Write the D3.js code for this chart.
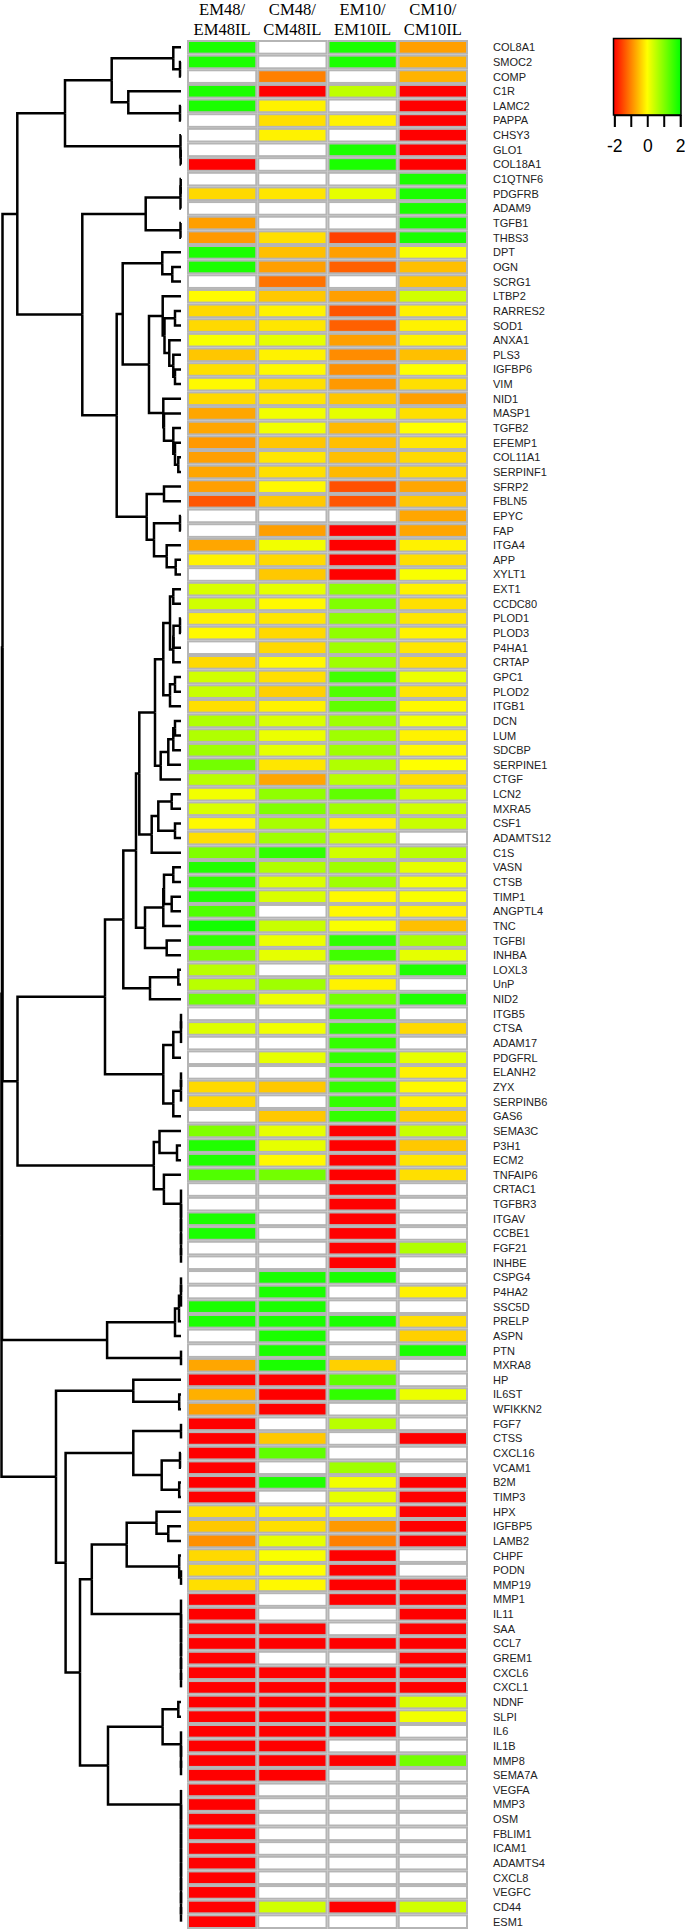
<!DOCTYPE html>
<html><head><meta charset="utf-8">
<script src="https://cdn.jsdelivr.net/npm/d3@7"></script>
<style>html,body{margin:0;padding:0;background:#fff;}svg{display:block;}</style>
</head><body>
<svg id="chart" width="685" height="1929"></svg>
<script>
const genes = ["COL8A1","SMOC2","COMP","C1R","LAMC2","PAPPA","CHSY3","GLO1","COL18A1","C1QTNF6","PDGFRB","ADAM9","TGFB1","THBS3","DPT","OGN","SCRG1","LTBP2","RARRES2","SOD1","ANXA1","PLS3","IGFBP6","VIM","NID1","MASP1","TGFB2","EFEMP1","COL11A1","SERPINF1","SFRP2","FBLN5","EPYC","FAP","ITGA4","APP","XYLT1","EXT1","CCDC80","PLOD1","PLOD3","P4HA1","CRTAP","GPC1","PLOD2","ITGB1","DCN","LUM","SDCBP","SERPINE1","CTGF","LCN2","MXRA5","CSF1","ADAMTS12","C1S","VASN","CTSB","TIMP1","ANGPTL4","TNC","TGFBI","INHBA","LOXL3","UnP","NID2","ITGB5","CTSA","ADAM17","PDGFRL","ELANH2","ZYX","SERPINB6","GAS6","SEMA3C","P3H1","ECM2","TNFAIP6","CRTAC1","TGFBR3","ITGAV","CCBE1","FGF21","INHBE","CSPG4","P4HA2","SSC5D","PRELP","ASPN","PTN","MXRA8","HP","IL6ST","WFIKKN2","FGF7","CTSS","CXCL16","VCAM1","B2M","TIMP3","HPX","IGFBP5","LAMB2","CHPF","PODN","MMP19","MMP1","IL11","SAA","CCL7","GREM1","CXCL6","CXCL1","NDNF","SLPI","IL6","IL1B","MMP8","SEMA7A","VEGFA","MMP3","OSM","FBLIM1","ICAM1","ADAMTS4","CXCL8","VEGFC","CD44","ESM1"];

const columns = ["EM48/\nEM48IL","CM48/\nCM48IL","EM10/\nEM10IL","CM10/\nCM10IL"];
const N = null;
const em48 = [1.8,1.8,N,1.8,1.8,N,N,N,-2,N,-0.3,N,-0.75,-0.8,1.8,1.8,N,-0.03,-0.3,-0.3,0.05,-0.45,-0.25,-0.05,-0.3,-0.7,-0.7,-0.8,-0.75,-0.7,-0.75,-1.33,N,N,-0.7,-0.1,N,0.3,0.37,-0.1,-0.05,N,-0.3,0.37,0.43,-0.25,0.62,0.62,0.75,1.1,0.55,0.1,0.3,-0.05,-0.25,1.0,1.75,1.62,1.75,1.37,1.87,1.62,1.0,0.55,0.55,1.1,N,0.27,N,N,N,-0.3,-0.3,N,1.0,1.75,1.75,1.37,N,N,1.8,1.8,N,N,N,N,1.8,1.8,N,N,-0.7,-2,-0.62,-0.75,-2,-2,-2,-2,-2,-2,-0.25,-0.43,-0.87,-0.3,-0.25,-0.25,-2,-2,-2,-2,-2,-2,-2,-2,-2,-2,-2,-2,-2,-2,-2,-2,-2,-2,-2,-2,-2,-2,-2];
const cm48 = [N,N,-1.0,-2,-0.1,-0.25,-0.1,N,N,N,-0.2,N,N,-0.25,-0.5,-0.75,-1.1,-0.43,-0.1,-0.2,0.2,-0.1,-0.05,-0.25,-0.2,0.1,0.1,-0.45,-0.2,-0.25,-0.05,-0.43,N,-0.75,0.1,-0.3,-0.43,0.2,-0.05,-0.2,-0.3,-0.3,-0.05,-0.25,-0.37,-0.1,0.3,0.15,0.2,-0.2,-0.7,0.87,1.0,0.68,0.75,1.62,0.62,0.3,0.3,N,0.43,0.15,0.2,N,0.75,0.15,N,0.1,N,0.2,N,-0.43,N,-0.43,0.2,0.2,-0.05,1.1,N,N,N,N,N,N,1.8,1.8,1.8,1.8,1.8,1.8,1.8,-2,-2,-2,N,-0.43,1.25,N,1.75,N,-0.1,-0.25,0.2,0.05,0,-0.05,N,N,-2,-2,N,-2,-2,-2,-2,-2,-2,-2,-2,N,N,N,N,N,N,N,N,0.37,N];
const em10 = [1.8,1.8,N,0.5,N,-0.1,N,1.8,1.8,N,0.2,N,N,-1.5,-0.75,-1.25,N,-0.75,-1.33,-1.25,-0.75,-0.9,-0.87,-0.8,-0.45,0.2,-0.55,-0.5,-0.5,-0.55,-1.37,-1.33,N,-2,-2,-2,-2,0.87,1.0,0.87,0.87,0.75,0.75,1.5,1.37,1.25,0.75,0.75,0.75,0.62,0.55,1.25,0.75,-0.1,0.43,0.37,0.75,0.75,-0.05,-0.05,0.05,1.62,1.5,0.15,-0.1,1.1,1.6,1.6,1.6,1.6,1.6,1.6,1.6,1.6,-2,-2,-2,-2,-2,-2,-2,-2,-2,-2,1.8,N,N,1.8,N,N,-0.37,1.25,1.62,N,0.55,N,N,0.75,0.1,0.2,0.05,-0.8,-1.0,-2,-2,-2,-2,N,N,-2,N,-2,-2,-2,-2,-2,N,-2,N,N,N,N,N,N,N,N,N,-2,N];
const cm10 = [-0.75,-0.6,-0.6,-2,-2,-2,-2,-2,-2,1.8,1.8,1.8,1.8,1.8,0.05,-0.5,-0.45,0.37,-0.1,-0.1,-0.1,-0.5,0,-0.25,-0.75,-0.25,0,-0.2,-0.3,-0.3,-0.7,-0.43,-0.7,-0.7,-0.1,-0.25,0.05,-0.1,-0.25,-0.2,-0.1,-0.2,-0.25,0.15,-0.2,-0.05,0.1,-0.1,-0.05,0,-0.25,0.37,0.37,0.43,N,0.55,0.2,0.1,0.05,-0.1,-0.5,0.68,0.2,1.75,N,1.75,N,-0.3,N,0.2,-0.1,-0.05,-0.1,-0.37,0.43,-0.43,-0.2,-0.25,N,N,N,N,0.62,N,N,-0.1,N,-0.25,-0.37,1.8,N,N,0.15,N,N,-2,N,N,-2,-2,-2,-2,-2,N,N,-2,-2,-2,-2,-2,-2,-2,-2,0.3,0.1,N,N,1.1,N,N,N,N,N,N,N,N,N,0.37,N];
const series = [em48, cm48, em10, cm10];

const legendTicks = [-2,-1,0,1,2];
const legendLabels = ["-2","","0","","2"];

// dendrogram: [height, left, right]; leaves are gene names
const treeTop = [163.7,
  [116,
    [69.3, [7.7, "COL8A1", [1, "SMOC2", "COMP"]], [52.7, "C1R", [1, "LAMC2", "PAPPA"]]],
    [0.5, "CHSY3", [0.3, "GLO1", "COL18A1"]]],
  [98.7,
    [35.3, [0.5, [0.3, "C1QTNF6", "PDGFRB"], "ADAM9"], [0.5, "TGFB1", "THBS3"]],
    [64.3,
      [58.3,
        [18.7, "DPT", [8.7, "OGN", "SCRG1"]],
        [32,
          [18.3, "LTBP2", [16.5, [6, "RARRES2", "SOD1"], [11.7, "ANXA1", [7.7, "PLS3", [6, "IGFBP6", "VIM"]]]]],
          [17.7, "NID1", [17, "MASP1", [7.7, "TGFB2", [6, "EFEMP1", [2.7, "COL11A1", "SERPINF1"]]]]]]],
      [34.3, [17, "SFRP2", "FBLN5"], [27, [1, "EPYC", "FAP"], [14.3, "ITGA4", [5.3, "APP", "XYLT1"]]]]]]];
const treeMid = [163.5,
  [76,
    [57.7,
      [45,
        [41.7,
          [26,
            [17.7, [11, [7.7, "EXT1", "CCDC80"], [7.7, [7.5, [1, "PLOD1", "PLOD3"], "P4HA1"], "CRTAP"]],
                   [11, [6, "GPC1", "PLOD2"], "ITGB1"]],
            [20.3, [12.7, [7.7, [6, "DCN", "LUM"], "SDCBP"], "SERPINE1"], "CTGF"]],
          [29.3, [22.7, [9.3, "LCN2", "MXRA5"], [6, "CSF1", "ADAMTS12"]], "C1S"]],
        [36, [17.7, [17, [7.7, "VASN", "CTSB"], [9.3, "TIMP1", "ANGPTL4"]], "TNC"], [14.3, "TGFBI", "INHBA"]]],
      [31, [2.7, "LOXL3", "UnP"], "NID2"]],
    [17.7, [7.7, [0, [0, "ITGB5", "CTSA"], "ADAM17"], "PDGFRL"], [7.7, [0, [0, "ELANH2", "ZYX"], "SERPINB6"], "GAS6"]]],
  [27.2, [21.5, "SEMA3C", [4, "P3H1", "ECM2"]],
    [17.1, "TNFAIP6", [0, "CRTAC1", [0, "TGFBR3", [0, "ITGAV", [0, "CCBE1", [0, "FGF21", "INHBE"]]]]]]]];
const treeLow = [73.9, [6, [2, [0, [0, "CSPG4", "P4HA2"], "SSC5D"], "PRELP"], "ASPN"], [0, "PTN", "MXRA8"]];
const treeBottom = [125,
  [47.7, "HP", [1.8, "IL6ST", "WFIKKN2"]],
  [115.4,
    [47.7, [0, "FGF7", "CTSS"], [19.3, [1, "CXCL16", "VCAM1"], [1.8, "B2M", "TIMP3"]]],
    [101,
      [89.2,
        [54.3, [24.5, "HPX", [12.7, "IGFBP5", "LAMB2"]], [1.8, "CHPF", [0, "PODN", "MMP19"]]],
        [0, "MMP1", [0, "IL11", [0, "SAA", [0, "CCL7", [0, "GREM1", [0, "CXCL6", "CXCL1"]]]]]]],
      [73,
        [18.4, [2.7, "NDNF", "SLPI"], [0, "IL6", [0, "IL1B", [0, "MMP8", "SEMA7A"]]]],
        [0, "VEGFA", [0, "MMP3", [0, "OSM", [0, "FBLIM1", [0, "ICAM1", [0, "ADAMTS4", [0, "CXCL8", [0, "VEGFC", [0, "CD44", "ESM1"]]]]]]]]]]]]];
const dendrogram = [179.5, [179, [178.5, treeTop, treeMid], treeLow], treeBottom];

const svg = d3.select("#chart");

const x = d3.scaleBand().domain(d3.range(columns.length)).range([187, 468]).padding(0);
const y = d3.scaleBand().domain(genes).range([40, 1929]).padding(0);
const color = d3.scaleLinear().domain([-2, 0, 2]).range(["#ff0000", "#ffff00", "#00ff00"]).clamp(true);

// heatmap cells
const cells = [];
genes.forEach((g, i) => series.forEach((s, j) => cells.push({g, j, v: s[i]})));
svg.append("g").selectAll("rect").data(cells).join("rect")
  .attr("x", d => x(d.j) + 1)
  .attr("y", d => y(d.g) + 1)
  .attr("width", x.bandwidth() - 2)
  .attr("height", y.bandwidth() - 2)
  .attr("fill", d => d.v === null ? "#ffffff" : color(d.v))
  .attr("stroke", "#b5b5b5")
  .attr("stroke-width", 2);

// column headers
const hdr = svg.append("g").attr("font-family", "'Liberation Serif','Times New Roman',serif")
  .attr("font-size", 16.6).attr("fill", "#000").attr("text-anchor", "middle");
columns.forEach((c, j) => {
  c.split("\n").forEach((t, k) => {
    hdr.append("text").attr("x", x(j) + x.bandwidth() / 2).attr("y", 14.9 + k * 20.3).text(t);
  });
});

// row labels
svg.append("g").attr("font-family", "'Liberation Sans',Arial,sans-serif").attr("font-size", 11).attr("fill", "#222")
  .selectAll("text").data(genes).join("text")
  .attr("x", 493)
  .attr("y", g => y(g) + y.bandwidth() / 2)
  .attr("dy", "0.36em")
  .text(g => g);

// dendrogram
const root = d3.hierarchy(dendrogram, d => Array.isArray(d) ? [d[1], d[2]] : null);
const hx = d3.scaleLinear().domain([0, 179.5]).range([181, 1.5]);
root.eachAfter(n => {
  if (n.children) {
    n.h = n.data[0];
    n.yy = (n.children[0].yy + n.children[1].yy) / 2;
  } else {
    n.h = 0;
    n.yy = y(n.data) + y.bandwidth() / 2;
  }
});
svg.append("g").attr("fill", "none").attr("stroke", "#000").attr("stroke-width", 2.5)
  .attr("stroke-linejoin", "miter")
  .selectAll("path").data(root.descendants().filter(n => n.parent)).join("path")
  .attr("d", n => `M${hx(n.h)},${n.yy}H${hx(n.parent.h)}V${n.parent.yy}`);

// legend
const defs = svg.append("defs");
const grad = defs.append("linearGradient").attr("id", "lg").attr("x1", "0%").attr("x2", "100%");
[[0, color(-2)], [0.25, color(-1)], [0.5, color(0)], [0.75, color(1)], [1, color(2)]].forEach(([o, c]) =>
  grad.append("stop").attr("offset", o).attr("stop-color", c));
svg.append("rect").attr("x", 613.5).attr("y", 38.5).attr("width", 67.5).attr("height", 76.5)
  .attr("fill", "url(#lg)").attr("stroke", "#000").attr("stroke-width", 1.5);
const lx = d3.scaleLinear().domain([-2, 2]).range([614.3, 680.2]);
const ax = svg.append("g").attr("transform", "translate(0,115)")
  .call(d3.axisBottom(lx).tickValues(legendTicks).tickSize(12).tickPadding(13)
    .tickFormat((d, i) => legendLabels[i]));
ax.select(".domain").attr("stroke", "#000").attr("stroke-width", 1.5);
ax.selectAll(".tick line").attr("stroke", "#000").attr("stroke-width", 2);
ax.selectAll(".tick text").attr("font-family", "'Liberation Sans',Arial,sans-serif").attr("font-size", 17.5).attr("fill", "#000");
</script>
</body></html>
